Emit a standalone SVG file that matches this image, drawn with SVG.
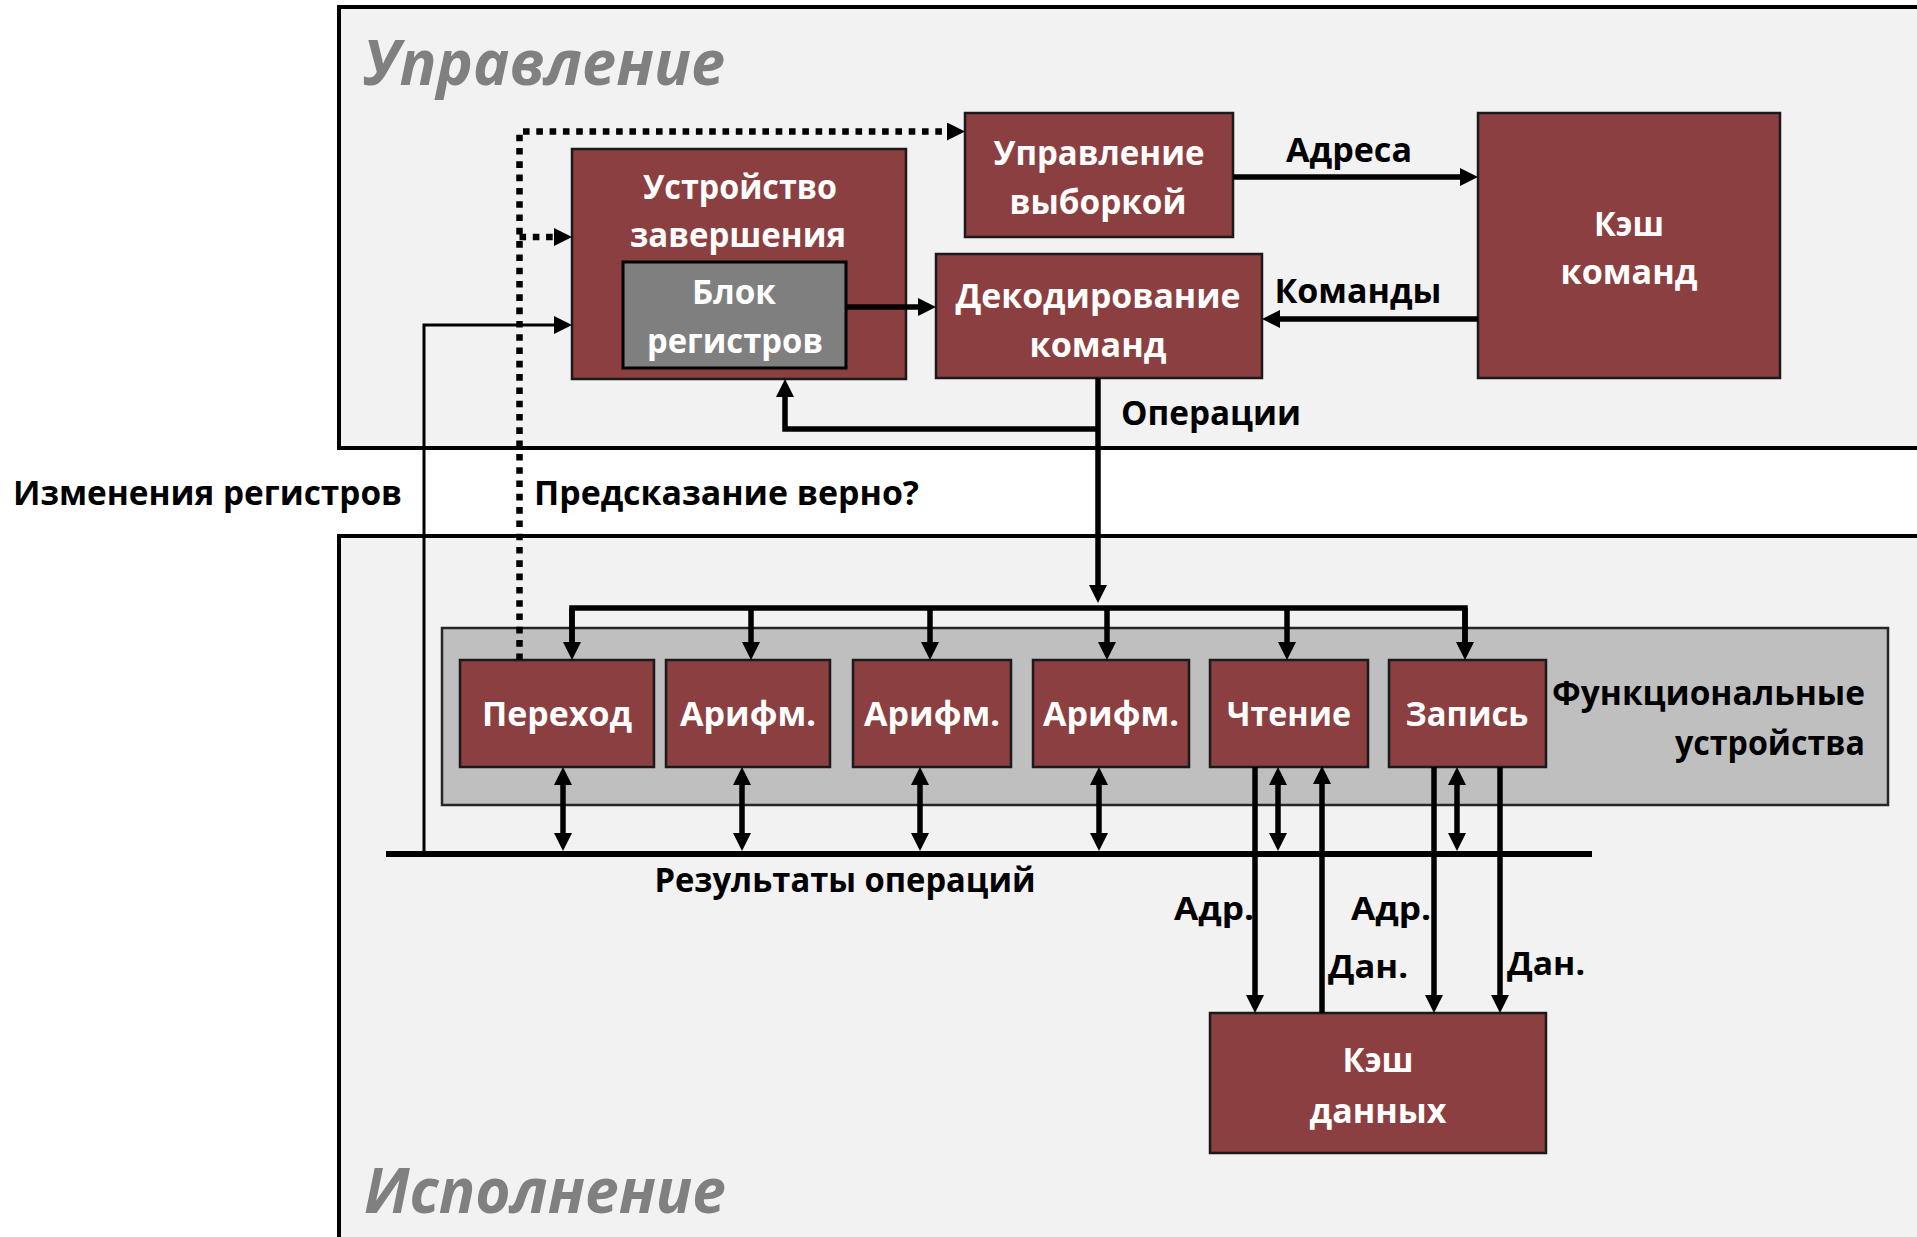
<svg xmlns="http://www.w3.org/2000/svg" width="1917" height="1237" viewBox="0 0 1917 1237">
  <style>
    .panel { fill: #f2f2f2; stroke: #000; stroke-width: 4; }
    .unit { fill: #8c3f40; stroke: #1a1a1a; stroke-width: 2.5; }
    .regs { fill: #7f7f7f; stroke: #000; stroke-width: 3; }
    .fu-area { fill: #bfbfbf; stroke: #262626; stroke-width: 2.5; }
    .title { font-family: "Open Sans", "Noto Sans", sans-serif; font-weight: bold; font-style: italic; font-size: 62px; fill: #808080; }
    .in { font-family: "Open Sans", "Noto Sans", sans-serif; font-weight: bold; font-size: 34px; fill: #fff; text-anchor: middle; }
    .lbl { font-family: "Open Sans", "Noto Sans", sans-serif; font-weight: bold; font-size: 34px; fill: #000; }
    .sm { font-size: 32px; }
    .w { fill: none; stroke: #000; stroke-width: 5.5; }
    .thin { fill: none; stroke: #000; stroke-width: 3; }
    .bus { fill: none; stroke: #000; stroke-width: 6; }
    .dot { fill: none; stroke: #000; stroke-width: 6.5; stroke-dasharray: 6.6 6.7; }
    .a { marker-end: url(#ah); }
    .aa { marker-start: url(#ah); marker-end: url(#ah); }
  </style>
  <defs>
    <marker id="ah" viewBox="0 0 10 10" refX="5" refY="5" markerWidth="18" markerHeight="18" markerUnits="userSpaceOnUse" orient="auto-start-reverse">
      <path d="M0,0 L10,5 L0,10 z" fill="#000"/>
    </marker>
  </defs>

  <!-- background panels -->
  <rect class="panel" x="339" y="7" width="1600" height="441"/>
  <rect class="panel" x="339" y="536" width="1600" height="720"/>
  <text class="title" x="363" y="85" textLength="362" lengthAdjust="spacingAndGlyphs">Управление</text>
  <text class="title" x="364" y="1213" textLength="362" lengthAdjust="spacingAndGlyphs">Исполнение</text>

  <!-- functional units area -->
  <g id="fu-area">
    <rect class="fu-area" x="442" y="628" width="1446" height="177"/>
    <text class="lbl" x="1865" y="705" text-anchor="end" textLength="313" lengthAdjust="spacingAndGlyphs">Функциональные</text>
    <text class="lbl" x="1865" y="755" text-anchor="end" textLength="190" lengthAdjust="spacingAndGlyphs">устройства</text>
  </g>

  <!-- control part -->
  <g id="retire">
    <rect class="unit" x="572" y="149" width="334" height="230"/>
    <text class="in" x="740" y="199" textLength="194" lengthAdjust="spacingAndGlyphs">Устройство</text>
    <text class="in" x="738" y="247" textLength="216" lengthAdjust="spacingAndGlyphs">завершения</text>
  </g>
  <g id="regfile">
    <rect class="regs" x="623" y="262" width="223" height="106"/>
    <text class="in" x="734" y="304" textLength="84" lengthAdjust="spacingAndGlyphs">Блок</text>
    <text class="in" x="735" y="353" textLength="176" lengthAdjust="spacingAndGlyphs">регистров</text>
  </g>
  <g id="fetch">
    <rect class="unit" x="965" y="113" width="268" height="124"/>
    <text class="in" x="1099" y="165" textLength="211" lengthAdjust="spacingAndGlyphs">Управление</text>
    <text class="in" x="1098" y="214" textLength="177" lengthAdjust="spacingAndGlyphs">выборкой</text>
  </g>
  <g id="decode">
    <rect class="unit" x="936" y="254" width="326" height="124"/>
    <text class="in" x="1098" y="308" textLength="285" lengthAdjust="spacingAndGlyphs">Декодирование</text>
    <text class="in" x="1098" y="357" textLength="137" lengthAdjust="spacingAndGlyphs">команд</text>
  </g>
  <g id="icache">
    <rect class="unit" x="1478" y="113" width="302" height="265"/>
    <text class="in" x="1629" y="236" textLength="70" lengthAdjust="spacingAndGlyphs">Кэш</text>
    <text class="in" x="1629" y="284" textLength="137" lengthAdjust="spacingAndGlyphs">команд</text>
  </g>

  <!-- execution units -->
  <g id="fu-branch">
    <rect class="unit" x="460" y="660" width="194" height="107"/>
    <text class="in" x="557" y="726" textLength="150" lengthAdjust="spacingAndGlyphs">Переход</text>
  </g>
  <g id="fu-alu1">
    <rect class="unit" x="666" y="660" width="164" height="107"/>
    <text class="in" x="748" y="726" textLength="136" lengthAdjust="spacingAndGlyphs">Арифм.</text>
  </g>
  <g id="fu-alu2">
    <rect class="unit" x="853" y="660" width="158" height="107"/>
    <text class="in" x="932" y="726" textLength="136" lengthAdjust="spacingAndGlyphs">Арифм.</text>
  </g>
  <g id="fu-alu3">
    <rect class="unit" x="1033" y="660" width="156" height="107"/>
    <text class="in" x="1111" y="726" textLength="136" lengthAdjust="spacingAndGlyphs">Арифм.</text>
  </g>
  <g id="fu-load">
    <rect class="unit" x="1210" y="660" width="158" height="107"/>
    <text class="in" x="1289" y="726" textLength="124" lengthAdjust="spacingAndGlyphs">Чтение</text>
  </g>
  <g id="fu-store">
    <rect class="unit" x="1389" y="660" width="157" height="107"/>
    <text class="in" x="1467" y="726" textLength="123" lengthAdjust="spacingAndGlyphs">Запись</text>
  </g>
  <g id="dcache">
    <rect class="unit" x="1210" y="1013" width="336" height="140"/>
    <text class="in" x="1378" y="1072" textLength="71" lengthAdjust="spacingAndGlyphs">Кэш</text>
    <text class="in" x="1378" y="1123" textLength="137" lengthAdjust="spacingAndGlyphs">данных</text>
  </g>

  <!-- connectors -->
  <g id="connectors">
    <path class="w a" d="M1233,177 H1469"/>
    <path class="w a" d="M1478,319 H1271"/>
    <path class="w a" d="M846,307 H927"/>
    <path class="w a" d="M1098,429 H785 V388"/>
    <path class="w a" d="M1098,378 V594"/>
    <path class="w" d="M572,651 V608 H1465 V651"/>
    <path class="w a" d="M572,608 V651"/>
    <path class="w a" d="M751,608 V651"/>
    <path class="w a" d="M930,608 V651"/>
    <path class="w a" d="M1107,608 V651"/>
    <path class="w a" d="M1287,608 V651"/>
    <path class="w a" d="M1465,608 V651"/>
    <path class="w aa" d="M563,776 V842"/>
    <path class="w aa" d="M742,776 V842"/>
    <path class="w aa" d="M920,776 V842"/>
    <path class="w aa" d="M1099,776 V842"/>
    <path class="w aa" d="M1278,776 V842"/>
    <path class="w aa" d="M1457,776 V842"/>
    <path class="bus" d="M386,854 H1592"/>
    <path class="w a" d="M1255,767 V1004"/>
    <path class="w a" d="M1322,1013 V775"/>
    <path class="w a" d="M1434,767 V1004"/>
    <path class="w a" d="M1500,767 V1004"/>
    <path class="thin a" d="M424,854 V325 H563"/>
    <path class="dot a" d="M519.5,660 V131.5 H956"/>
    <path class="dot a" d="M519.5,237 H563"/>
  </g>

  <!-- connector labels -->
  <g id="labels">
    <text class="lbl" x="1349" y="162" text-anchor="middle" textLength="126" lengthAdjust="spacingAndGlyphs">Адреса</text>
    <text class="lbl" x="1358" y="303" text-anchor="middle" textLength="167" lengthAdjust="spacingAndGlyphs">Команды</text>
    <text class="lbl" x="1121" y="425" textLength="180" lengthAdjust="spacingAndGlyphs">Операции</text>
    <text class="lbl" x="13" y="505" textLength="389" lengthAdjust="spacingAndGlyphs">Изменения регистров</text>
    <text class="lbl" x="534" y="505" textLength="385" lengthAdjust="spacingAndGlyphs">Предсказание верно?</text>
    <text class="lbl" x="845" y="892" text-anchor="middle" textLength="381" lengthAdjust="spacingAndGlyphs">Результаты операций</text>
    <text class="lbl sm" x="1174" y="920" textLength="80" lengthAdjust="spacingAndGlyphs">Адр.</text>
    <text class="lbl sm" x="1328" y="978" textLength="80" lengthAdjust="spacingAndGlyphs">Дан.</text>
    <text class="lbl sm" x="1351" y="920" textLength="80" lengthAdjust="spacingAndGlyphs">Адр.</text>
    <text class="lbl sm" x="1507" y="975" textLength="78" lengthAdjust="spacingAndGlyphs">Дан.</text>
  </g>
</svg>
